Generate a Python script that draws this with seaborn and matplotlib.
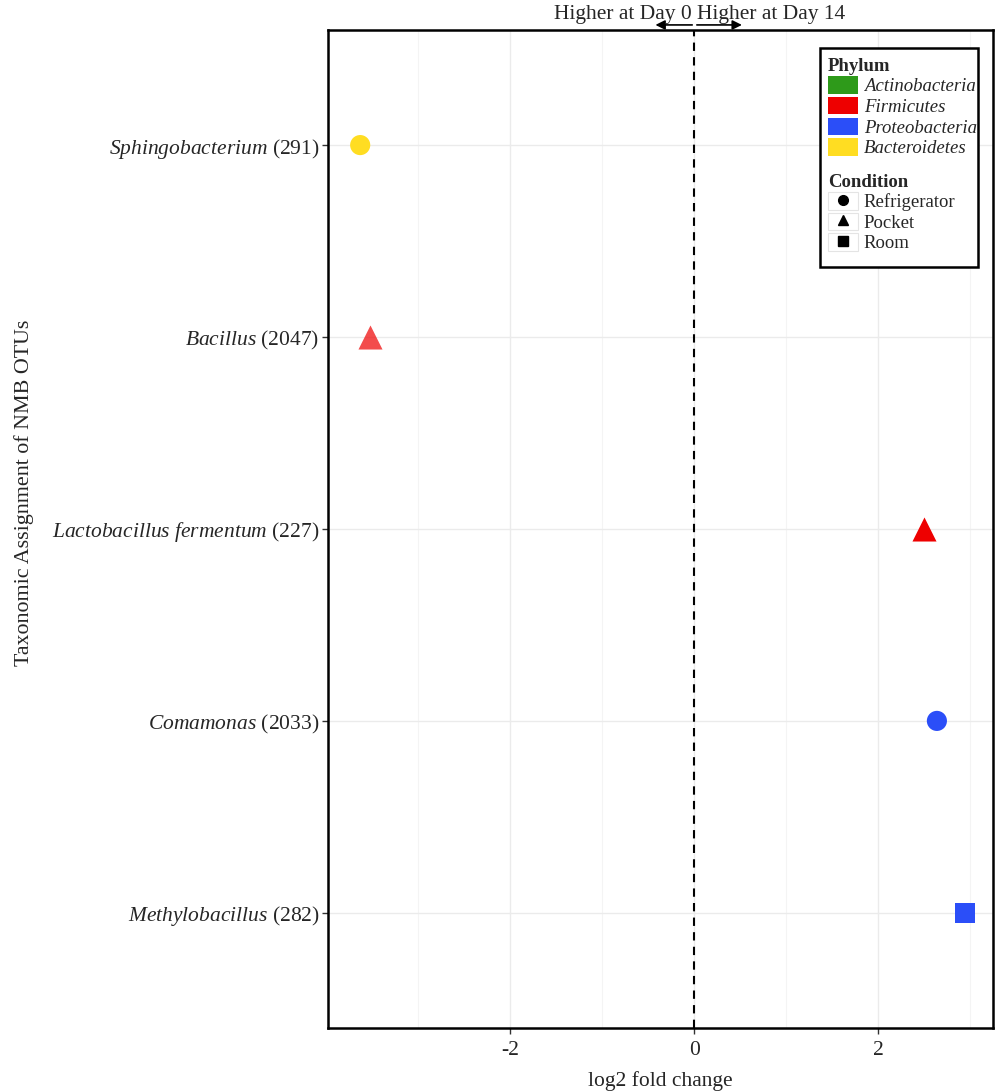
import matplotlib
matplotlib.use("Agg")
import matplotlib.pyplot as plt
from matplotlib.patches import Patch, Rectangle
from matplotlib.lines import Line2D
import seaborn as sns
import pandas as pd

# data
genus = ["Sphingobacterium", "Bacillus", "Lactobacillus fermentum", "Comamonas", "Methylobacillus"]
otu = [291, 2047, 227, 2033, 282]
log2fc = [-3.63, -3.52, 2.50, 2.64, 2.95]
phylum = ["Bacteroidetes", "Firmicutes", "Firmicutes", "Proteobacteria", "Proteobacteria"]
condition = ["Refrigerator", "Pocket", "Pocket", "Refrigerator", "Room"]
alpha = [1.0, 0.7, 1.0, 1.0, 1.0]

phyla = ["Actinobacteria", "Firmicutes", "Proteobacteria", "Bacteroidetes"]
phylum_colors = ["#2E9A1A", "#EE0000", "#2B4EF8", "#FFDD22"]
conditions = ["Refrigerator", "Pocket", "Room"]
condition_markers = ["o", "^", "s"]

frame = pd.DataFrame({
    "genus": genus, "otu": otu, "lfc": log2fc,
    "phylum": phylum, "condition": condition, "alpha": alpha,
})
frame["ypos"] = list(range(len(genus), 0, -1))

sns.set_style("whitegrid", rc={"grid.color": "#EBEBEB", "axes.edgecolor": "black"})
plt.rcParams["font.family"] = ["Liberation Serif", "DejaVu Serif"]
plt.rcParams["mathtext.fontset"] = "custom"
plt.rcParams["mathtext.rm"] = "Liberation Serif"
plt.rcParams["mathtext.it"] = "Liberation Serif:italic"
plt.rcParams["axes.unicode_minus"] = False

fig = plt.figure(figsize=(10, 10.92), dpi=100)
ax = fig.add_axes([0.328, 0.0586, 0.665, 0.914])

pal = dict(zip(phyla, phylum_colors))
mk = dict(zip(conditions, condition_markers))
sizes = {"o": 210, "^": 300, "s": 200}
for a, sub in frame.groupby("alpha"):
    for c, sub2 in sub.groupby("condition"):
        sns.scatterplot(data=sub2, x="lfc", y="ypos", hue="phylum", palette=pal,
                        marker=mk[c], s=sizes[mk[c]], alpha=a, linewidth=0,
                        legend=False, ax=ax, zorder=3)

ax.axvline(0, color="black", linestyle=(0, (4, 3)), linewidth=1.5, zorder=2)

ax.set_xlim(-3.98, 3.25)
ax.set_ylim(0.4, 5.6)
ax.set_xticks([-2, 0, 2])
ax.set_xticks([-3, -1, 1, 3], minor=True)
ax.set_yticks(frame["ypos"])
labels = []
for g, n in zip(genus, otu):
    labels.append(r"$\it{" + g.replace(" ", r"\ ") + "}$ (" + str(n) + ")")
ax.set_yticklabels(labels)
ax.grid(which="major", color="#EBEBEB", linewidth=1.0)
ax.grid(which="minor", axis="x", color="#F4F4F4", linewidth=0.8)
ax.tick_params(axis="both", which="major", labelsize=15.5, length=4, width=1,
               color="#333333", left=True, bottom=True, pad=2)
ax.tick_params(axis="x", which="major", pad=5)
ax.tick_params(axis="x", which="minor", length=0)
for sp in ax.spines.values():
    sp.set_linewidth(1.8)
    sp.set_color("black")

ax.set_xlabel("log2 fold change", fontsize=15.5, labelpad=8)
ax.set_ylabel("Taxonomic Assignment of NMB OTUs", fontsize=15.8)
ax.yaxis.set_label_coords(-0.442, 0.536)

# direction annotation above the panel
arrow = dict(arrowstyle="-|>", color="black", lw=1.2, mutation_scale=14, shrinkA=0, shrinkB=0)
ax.annotate("", xy=(-0.42, 1.005), xytext=(-0.02, 1.005), xycoords=("data", "axes fraction"),
            arrowprops=arrow, annotation_clip=False)
ax.annotate("", xy=(0.52, 1.005), xytext=(0.03, 1.005), xycoords=("data", "axes fraction"),
            arrowprops=arrow, annotation_clip=False)
ax.text(-0.02, 1.011, "Higher at Day 0", ha="right", va="baseline", fontsize=15.5,
        transform=ax.get_xaxis_transform())
ax.text(0.03, 1.011, "Higher at Day 14", ha="left", va="baseline", fontsize=15.5,
        transform=ax.get_xaxis_transform())

# legend box
ax.add_patch(Rectangle((0.740, 0.762), 0.238, 0.220, transform=ax.transAxes,
                       facecolor="white", edgecolor="black", linewidth=1.8, zorder=5))
ph_handles = [Patch(facecolor=c, edgecolor="none") for c in phylum_colors]
leg1 = ax.legend(ph_handles, phyla, title="Phylum", loc="upper left",
                 bbox_to_anchor=(0.752, 0.972), frameon=False, fontsize=13.5,
                 handlelength=1.6, handleheight=1.05, handletextpad=0.3,
                 labelspacing=0.08, borderpad=0, borderaxespad=0, alignment="left")
leg1.get_title().set_fontweight("bold")
leg1.get_title().set_fontsize(13.5)
for t in leg1.get_texts():
    t.set_fontstyle("italic")
leg1.set_zorder(6)
ax.add_artist(leg1)

cd_handles = [(Patch(facecolor="white", edgecolor="#E4E4E4", linewidth=0.8),
               Line2D([], [], marker=m, color="black", linestyle="none", markersize=7))
              for m in condition_markers]
leg2 = ax.legend(cd_handles, conditions, title="Condition", loc="upper left",
                 bbox_to_anchor=(0.752, 0.856), frameon=False, fontsize=13.5,
                 handlelength=1.6, handleheight=1.05, handletextpad=0.3,
                 labelspacing=0.08, borderpad=0, borderaxespad=0, alignment="left")
leg2.get_title().set_fontweight("bold")
leg2.get_title().set_fontsize(13.5)
leg2.set_zorder(6)

fig.savefig("out.png", dpi=100)
